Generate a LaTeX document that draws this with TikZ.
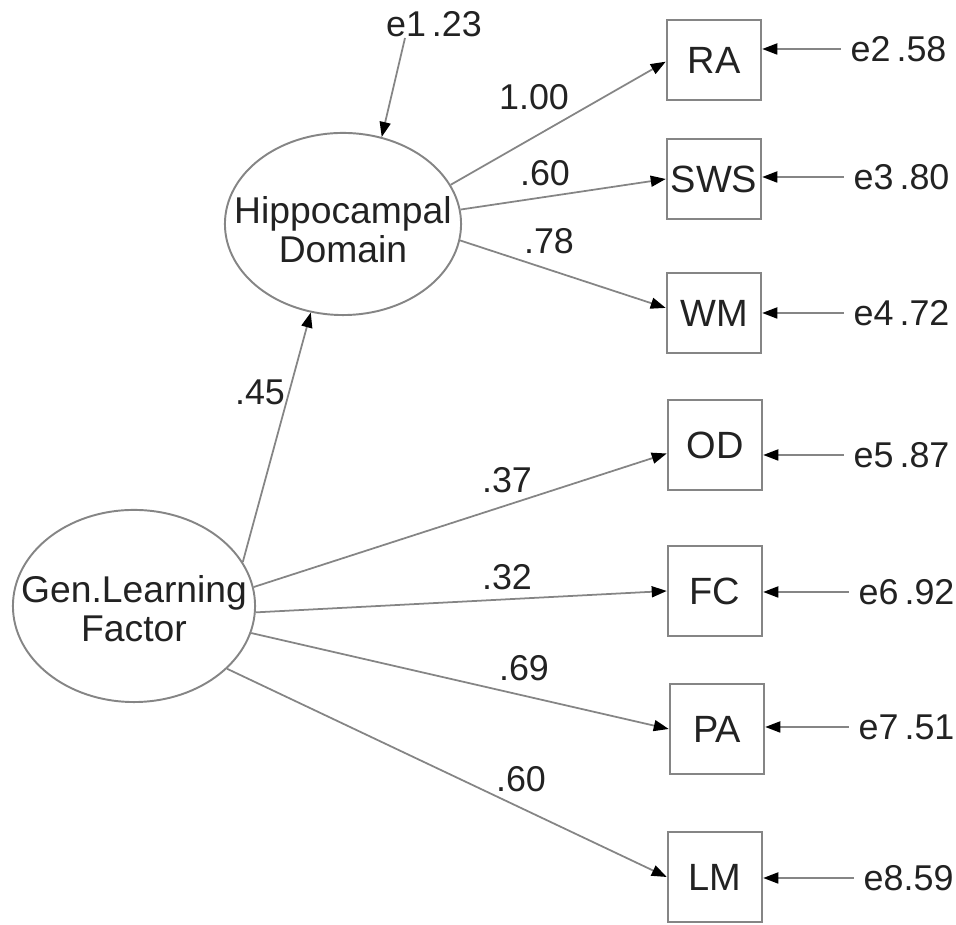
\documentclass[tikz,border=0pt]{standalone}
\usepackage{fontspec}
\setmainfont{Liberation Sans}
\usetikzlibrary{arrows.meta,shapes.geometric}
\definecolor{semLine}{HTML}{858585}
\definecolor{semText}{HTML}{222222}

\begin{document}
\begin{tikzpicture}[x=0.01cm,y=-0.01cm,font=\fontsize{10.2}{10.9}\selectfont,text=semText,
      latent/.style={draw=semLine,line width=0.55pt,ellipse,inner sep=0pt},
      lvtext/.style={font=\fontsize{10.6}{11}\selectfont,align=center},
      obs/.style={draw=semLine,line width=0.7pt,minimum width=0.94cm,minimum height=0.8cm,inner sep=0pt,font=\fontsize{10.8}{11}\selectfont},
      tall/.style={minimum height=0.9cm},
      coef/.style={inner sep=0pt},
      err/.style={inner sep=0.09cm,anchor=west},
      reg/.style={semLine,line width=0.5pt,-{Triangle[length=1.5mm,width=1.1mm,color=black]}}]
    \useasboundingbox (0,0) rectangle (956,925);
    % latent factors
    \node[latent,minimum width=2.36cm,minimum height=1.82cm,label={[lvtext,yshift=-0.06cm]center:Hippocampal\\ Domain}] (hip) at (343,224) {};
    \node[latent,minimum width=2.42cm,minimum height=1.92cm,label={[lvtext,yshift=-0.03cm]center:Gen.Learning\\ Factor}] (gen) at (134,606) {};
    % indicators
    \node[obs] (ra) at (714,60) {RA};
    \node[obs] (sws) at (714,179) {SWS};
    \node[obs] (wm) at (714,313) {WM};
    \node[obs,tall] (od) at (715,445) {OD};
    \node[obs,tall] (fc) at (715,591) {FC};
    \node[obs,tall] (pa) at (717,729) {PA};
    \node[obs,tall] (lm) at (715,877) {LM};
    \foreach \a/\b in {hip.20/ra.182,hip.7/sws.west,hip.-8/wm.174,gen.22/hip.250,gen.9/od.190,gen.-3/fc.west,gen.-13/pa.west,gen.-34/lm.west}
      \draw[reg] (\a) -- (\b);
    % loadings
    \foreach \x/\y/\t [count=\i] in {534/97/1.00,545/173/.60,549/241/.78,260/392/.45,507/480/.37,507/577/.32,524/668/.69,521/779/.60}
      \node[coef] (c\i) at (\x,\y) {\t};
    % residuals
    \node[coef] (e1) at (434,24) {e1\,.23};
    \coordinate (e1tail) at (405,38);
    \draw[reg] (e1tail) -- (hip.66);
    \foreach \n/\b/\x/\y/\t in {e2/ra/841/49/{e2\,.58},e3/sws/844/177/{e3\,.80},e4/wm/844/313/{e4\,.72},e5/od/844/455/{e5\,.87},e6/fc/849/592/{e6\,.92},e7/pa/849/727/{e7\,.51},e8/lm/854/878/{e8.59}}{
      \node[err] (\n) at (\x,\y) {\t};
      \draw[reg] (\n.west) -- (\n.west -| \b.east);
    }
\end{tikzpicture}
\end{document}
